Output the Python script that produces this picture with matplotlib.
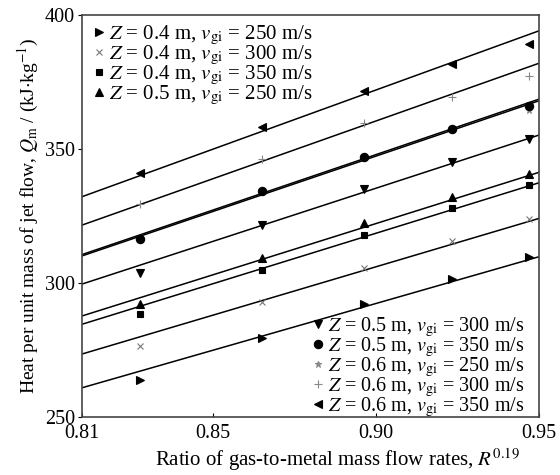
import numpy as np
import matplotlib
matplotlib.use("Agg")
import matplotlib.pyplot as plt

plt.rcParams['font.family'] = ['Liberation Serif', 'DejaVu Serif']
plt.rcParams['mathtext.fontset'] = 'stix'

# R^0.19 values of the measured points
x_pts = [0.8278, 0.8651, 0.8964, 0.9234, 0.9469]

# measured Q_m for each case (kJ/kg)
q_04_250 = [263.8, 279.6, 292.0, 301.5, 309.8]
q_04_300 = [276.5, 292.8, 305.7, 315.8, 323.9]
q_04_350 = [288.3, 304.9, 317.9, 328.1, 336.6]
q_05_250 = [292.2, 309.2, 322.3, 332.2, 340.6]
q_05_300 = [303.8, 321.8, 335.1, 345.0, 353.6]
q_05_350 = [316.3, 334.3, 347.1, 357.5, 365.9]
q_06_250 = [316.6, 334.6, 347.4, 357.9, 364.6]
q_06_300 = [329.5, 346.4, 359.6, 369.3, 377.2]
q_06_350 = [341.2, 358.3, 371.8, 381.6, 389.1]

# fitted lines, value at x = 0.81 and x = 0.95
fit_x = [0.81, 0.95]
fit_left = [260.9, 273.5, 284.6, 287.7, 299.6, 310.1, 310.6, 321.6, 332.2]
fit_right = [309.8, 324.1, 337.4, 341.3, 355.2, 368.0, 368.6, 382.0, 394.1]

labels = [
    r'$Z$ = 0.4 m, $v_{\rm gi}$ = 250 m/s',
    r'$Z$ = 0.4 m, $v_{\rm gi}$ = 300 m/s',
    r'$Z$ = 0.4 m, $v_{\rm gi}$ = 350 m/s',
    r'$Z$ = 0.5 m, $v_{\rm gi}$ = 250 m/s',
    r'$Z$ = 0.5 m, $v_{\rm gi}$ = 300 m/s',
    r'$Z$ = 0.5 m, $v_{\rm gi}$ = 350 m/s',
    r'$Z$ = 0.6 m, $v_{\rm gi}$ = 250 m/s',
    r'$Z$ = 0.6 m, $v_{\rm gi}$ = 300 m/s',
    r'$Z$ = 0.6 m, $v_{\rm gi}$ = 350 m/s',
]
series = [q_04_250, q_04_300, q_04_350, q_05_250, q_05_300,
          q_05_350, q_06_250, q_06_300, q_06_350]
markers = ['>', 'x', 's', '^', 'v', 'o', '*', '+', '<']
colors = ['black', '#777777', 'black', 'black', 'black',
          'black', '#888888', '#888888', 'black']
sizes = [6, 4, 5, 6, 6, 6, 5, 6, 6]
zorders = [3, 3, 3, 3, 3, 4, 2.5, 3, 3]

fig = plt.figure(figsize=(5.6, 4.75), dpi=100)
ax = fig.add_axes([0.1464, 0.1221, 0.8161, 0.8463])

for i in range(len(series)):
    ax.plot(fit_x, [fit_left[i], fit_right[i]], color='black', lw=1.1, zorder=2)

handles = []
for i in range(len(series)):
    h, = ax.plot(x_pts, series[i], linestyle='none', marker=markers[i],
                 color=colors[i], markersize=sizes[i], markeredgewidth=0.8,
                 label=labels[i], zorder=zorders[i])
    handles.append(h)

ax.set_xlim(0.81, 0.95)
ax.set_ylim(250, 400)
ax.set_xticks([0.81, 0.85, 0.90, 0.95])
ax.set_xticklabels(['0.81', '0.85', '0.90', '0.95'])
ax.set_yticks([250, 300, 350, 400])
ax.tick_params(axis='x', direction='in', length=3, labelsize=14.5, pad=5)
ax.tick_params(axis='y', direction='out', length=3, labelsize=14.5, pad=2)
for s in ax.spines.values():
    s.set_linewidth(1.2)
    s.set_color('#444444')

ax.set_xlabel(r'Ratio of gas-to-metal mass flow rates, $R^{0.19}$', fontsize=15)
ax.xaxis.set_label_coords(0.558, -0.072)
ax.set_ylabel(r'Heat per unit mass of jet flow, $Q_{\rm m}$ / (kJ$\cdot$kg$^{-1}$)',
              fontsize=14, labelpad=3)

leg1 = ax.legend(handles=handles[:4], loc='upper left', frameon=False,
                 fontsize=15, handlelength=0.4, handletextpad=0.3,
                 labelspacing=-0.14, borderaxespad=0.0, bbox_to_anchor=(0.01, 1.0))
ax.add_artist(leg1)
ax.legend(handles=handles[4:], loc='lower right', frameon=False,
          fontsize=14.5, handlelength=0.4, handletextpad=0.3,
          labelspacing=-0.19, borderaxespad=0.0, bbox_to_anchor=(0.985, -0.025))

fig.savefig('out.png', dpi=100)
